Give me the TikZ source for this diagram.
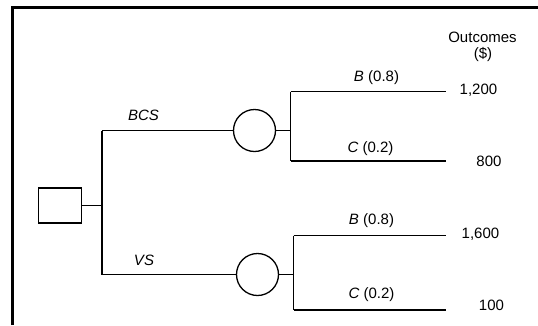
\documentclass[tikz,border=0pt]{standalone}
\usepackage{fontspec}
\setmainfont{Liberation Sans}
\begin{document}
\begin{tikzpicture}[x=1pt,y=-1pt,
  line width=1.3pt,
  lbl/.style={font=\fontsize{15}{17}\selectfont, inner sep=0pt},
  decision/.style={draw, minimum width=43pt, minimum height=35pt, inner sep=0pt},
  chance/.style={draw, circle, minimum size=42pt, inner sep=0pt}]
\useasboundingbox (0,0) rectangle (538,325);
\draw[line width=2.2pt] (12.5,325) -- (12.5,7.5) -- (538,7.5);
% nodes
\node[decision] (d) at (60,205.5) {};
\coordinate (t) at (102,205.5);
\coordinate (tu) at (102,130.5);
\coordinate (tl) at (102,274.5);
\node[chance] (c1) at (254.5,130.5) {};
\node[chance] (c2) at (257.5,274.5) {};
\coordinate (j1) at (290.5,130.5);
\coordinate (j1u) at (290.5,91.5);
\coordinate (j1l) at (290.5,161);
\coordinate (e1u) at (446,91.5);
\coordinate (e1l) at (446,161);
\coordinate (j2) at (293.5,274.5);
\coordinate (j2u) at (293.5,235.5);
\coordinate (j2l) at (293.5,310);
\coordinate (e2u) at (446,235.5);
\coordinate (e2l) at (446,310);
% connectors
\draw (d.east) -- (t);
\draw (tu) -- (tl);
\draw (tu) -- (c1.west);
\draw (tl) -- (c2.west);
\draw (c1.east) -- (j1);
\draw (j1u) -- (j1l);
\draw (j1u) -- (e1u);
\draw (j1l) -- (e1l);
\draw (c2.east) -- (j2);
\draw (j2u) -- (j2l);
\draw (j2u) -- (e2u);
\draw (j2l) -- (e2l);
% labels
\node[lbl] (bcs) at (143.5,115) {\textit{BCS}};
\node[lbl] (vs) at (144,260) {\textit{VS}};
\node[lbl] (b1) at (376.5,78) {\textit{B} (0.8)};
\node[lbl] (cc1) at (370.5,148.5) {\textit{C} (0.2)};
\node[lbl] (b2) at (371.5,220.5) {\textit{B} (0.8)};
\node[lbl] (cc2) at (371.5,295) {\textit{C} (0.2)};
\node[lbl] (o1) at (478.5,90) {1,200};
\node[lbl] (o2) at (489,161) {800};
\node[lbl] (o3) at (480.5,234) {1,600};
\node[lbl] (o4) at (491.5,305.5) {100};
\node[lbl] (out) at (482.5,37) {Outcomes};
\node[lbl] (dol) at (483,54) {(\$)};
\end{tikzpicture}
\end{document}
